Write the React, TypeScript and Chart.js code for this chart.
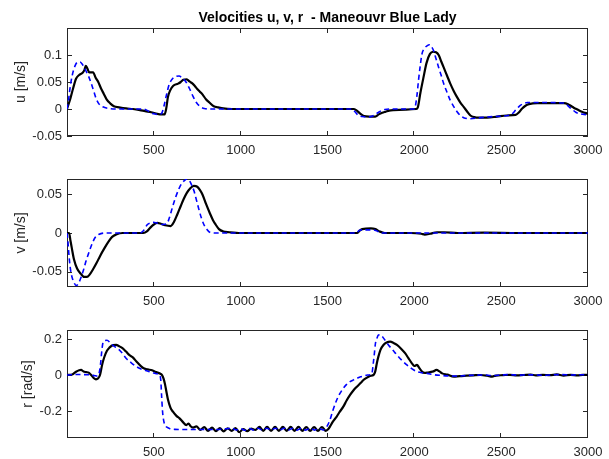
import React, { useEffect, useRef } from "react";
import { Chart, registerables } from "chart.js";

Chart.register(...registerables);

const FONT = "'Liberation Sans', Arial, Helvetica, sans-serif";
const AXIS_COLOR = "#262626";

// ---------------- data ----------------
const titleText = "Velocities u, v, r  - Maneouvr Blue Lady";
const xTicks = [500, 1000, 1500, 2000, 2500, 3000];
const uTicks = [-0.05, 0, 0.05, 0.1];
const vTicks = [-0.05, 0, 0.05];
const rTicks = [-0.2, 0, 0.2];

const uMeasured: [number, number][] = [
  [0, 0], [20, 0.02], [35, 0.038], [52, 0.056], [70, 0.063], [90, 0.067], [100, 0.072], [108, 0.08],
  [116, 0.076], [128, 0.068], [150, 0.068], [165, 0.058], [180, 0.05], [196, 0.038], [212, 0.028],
  [228, 0.018], [250, 0.01], [270, 0.005], [300, 0.003], [340, 0.001], [380, 0], [420, -0.002],
  [450, -0.004], [485, -0.006], [520, -0.009], [545, -0.01], [562, -0.01], [572, 0.002], [581, 0.022],
  [595, 0.035], [612, 0.043], [640, 0.047], [655, 0.05], [670, 0.054], [690, 0.055], [705, 0.051],
  [720, 0.048], [735, 0.043], [750, 0.037], [765, 0.032], [780, 0.027], [800, 0.018], [820, 0.012],
  [845, 0.005], [870, 0.003], [900, 0.001], [950, 0], [1300, 0], [1650, 0], [1665, -0.002],
  [1690, -0.009], [1710, -0.013], [1740, -0.014], [1775, -0.014], [1795, -0.01], [1815, -0.007],
  [1835, -0.005], [1855, -0.003], [1880, -0.002], [1950, -0.001], [2010, 0], [2020, 0.003],
  [2035, 0.03], [2053, 0.059], [2070, 0.085], [2090, 0.102], [2108, 0.106], [2125, 0.105],
  [2140, 0.1], [2155, 0.088], [2169, 0.077], [2188, 0.062], [2207, 0.047], [2226, 0.034],
  [2246, 0.022], [2265, 0.012], [2284, 0.004], [2305, -0.005], [2323, -0.012], [2345, -0.015],
  [2370, -0.016], [2419, -0.016], [2477, -0.014], [2530, -0.012], [2583, -0.011], [2600, -0.007],
  [2621, 0.001], [2640, 0.006], [2660, 0.009], [2708, 0.011], [2780, 0.011], [2862, 0.011],
  [2885, 0.009], [2900, 0.006], [2920, 0.002], [2939, -0.001], [2965, -0.005], [3000, -0.009],
];

const uSimulated: [number, number][] = [
  [0, 0], [8, 0.015], [18, 0.04], [30, 0.062], [45, 0.079], [62, 0.087], [75, 0.087], [90, 0.082],
  [110, 0.07], [125, 0.06], [140, 0.047], [155, 0.032], [167, 0.02], [185, 0.009], [206, 0.004],
  [240, 0.001], [280, 0], [440, 0], [470, -0.004], [500, -0.009], [530, -0.01], [545, -0.008],
  [558, 0.005], [572, 0.025], [588, 0.045], [605, 0.055], [625, 0.06], [645, 0.061], [665, 0.057],
  [685, 0.05], [705, 0.038], [725, 0.024], [745, 0.012], [765, 0.005], [790, 0.001], [830, 0],
  [1640, 0], [1655, -0.004], [1675, -0.011], [1700, -0.014], [1730, -0.015], [1760, -0.013],
  [1790, -0.007], [1810, -0.003], [1830, -0.001], [1860, 0], [1995, 0], [2005, 0.004], [2015, 0.025],
  [2024, 0.053], [2034, 0.08], [2044, 0.102], [2058, 0.112], [2073, 0.117], [2088, 0.119],
  [2100, 0.115], [2111, 0.108], [2125, 0.093], [2140, 0.077], [2155, 0.062], [2169, 0.047],
  [2188, 0.031], [2207, 0.016], [2226, 0.005], [2246, -0.005], [2265, -0.012], [2284, -0.016],
  [2323, -0.018], [2381, -0.016], [2458, -0.014], [2554, -0.011], [2570, -0.007], [2583, -0.002],
  [2598, 0.003], [2612, 0.007], [2630, 0.01], [2650, 0.012], [2766, 0.012], [2862, 0.011],
  [2878, 0.008], [2891, 0.004], [2910, -0.001], [2929, -0.006], [2955, -0.009], [2977, -0.01],
  [3000, -0.011],
];

const vMeasured: [number, number][] = [
  [0, 0], [12, 0], [20, -0.01], [28, -0.02], [40, -0.034], [58, -0.046], [80, -0.053], [100, -0.057],
  [115, -0.057], [130, -0.054], [150, -0.047], [170, -0.039], [190, -0.03], [215, -0.02],
  [240, -0.011], [260, -0.005], [283, -0.002], [320, 0], [440, 0], [460, 0.002], [480, 0.007],
  [500, 0.011], [520, 0.013], [540, 0.012], [565, 0.01], [597, 0.009], [615, 0.014], [635, 0.024],
  [655, 0.035], [672, 0.044], [690, 0.052], [710, 0.058], [730, 0.061], [750, 0.06], [765, 0.056],
  [780, 0.05], [800, 0.038], [822, 0.026], [840, 0.017], [856, 0.011], [875, 0.005], [900, 0.002],
  [935, 0.001], [1000, 0], [1670, 0], [1685, 0.003], [1700, 0.005], [1750, 0.006], [1776, 0.005],
  [1800, 0.002], [1830, 0], [1900, 0], [1980, 0], [2040, -0.001], [2060, -0.002], [2090, -0.001],
  [2130, 0.001], [2170, 0.001], [2250, 0], [2400, 0.0005], [2600, 0], [3000, 0],
];

const vSimulated: [number, number][] = [
  [0, 0], [5, -0.01], [10, -0.025], [16, -0.04], [22, -0.05], [30, -0.058], [40, -0.064],
  [52, -0.068], [65, -0.066], [80, -0.058], [95, -0.048], [110, -0.036], [125, -0.026],
  [148, -0.012], [165, -0.005], [182, -0.002], [216, 0], [420, 0], [440, 0.003], [463, 0.011],
  [480, 0.013], [496, 0.014], [530, 0.012], [552, 0.011], [575, 0.012], [590, 0.02], [608, 0.034],
  [625, 0.046], [642, 0.056], [660, 0.064], [676, 0.068], [692, 0.07], [705, 0.068], [718, 0.062],
  [732, 0.054], [745, 0.043], [759, 0.031], [773, 0.02], [788, 0.011], [805, 0.005], [822, 0.001],
  [860, 0], [1670, 0], [1680, 0.003], [1700, 0.004], [1765, 0.004], [1790, 0.002], [1810, 0],
  [3000, 0],
];

const rMeasured: [number, number][] = [
  [0, 0], [30, 0.003], [52, 0.018], [70, 0.026], [81, 0.028], [95, 0.02], [110, 0.016], [125, 0.013],
  [139, 0], [155, -0.018], [167, -0.024], [178, -0.02], [190, 0], [203, 0.06], [215, 0.1],
  [230, 0.135], [244, 0.152], [265, 0.166], [283, 0.167], [300, 0.16], [321, 0.148], [340, 0.13],
  [360, 0.11], [379, 0.098], [400, 0.075], [427, 0.048], [445, 0.036], [465, 0.031], [490, 0.026],
  [514, 0.016], [535, 0.008], [548, -0.002], [556, -0.02], [564, -0.05], [572, -0.09], [581, -0.135],
  [595, -0.18], [610, -0.204], [630, -0.227], [648, -0.241], [668, -0.262], [687, -0.278],
  [700, -0.27], [712, -0.285], [726, -0.292], [745, -0.285], [768, -0.305], [790, -0.29],
  [812, -0.31], [835, -0.292], [858, -0.312], [880, -0.295], [902, -0.313], [925, -0.296],
  [948, -0.31], [970, -0.295], [992, -0.318], [1015, -0.3], [1038, -0.312], [1060, -0.298],
  [1085, -0.305], [1108, -0.288], [1130, -0.31], [1152, -0.288], [1175, -0.31], [1198, -0.288],
  [1220, -0.31], [1243, -0.288], [1265, -0.31], [1288, -0.288], [1310, -0.31], [1333, -0.288],
  [1355, -0.31], [1378, -0.29], [1400, -0.31], [1423, -0.29], [1445, -0.31], [1468, -0.29],
  [1490, -0.31], [1505, -0.3], [1514, -0.287], [1530, -0.26], [1553, -0.231], [1570, -0.205],
  [1591, -0.176], [1610, -0.142], [1630, -0.111], [1650, -0.085], [1669, -0.065], [1690, -0.045],
  [1707, -0.028], [1725, -0.016], [1745, -0.005], [1765, 0], [1775, 0.02], [1785, 0.07],
  [1793, 0.102], [1805, 0.14], [1822, 0.167], [1840, 0.18], [1861, 0.185], [1880, 0.178],
  [1900, 0.167], [1925, 0.145], [1948, 0.12], [1965, 0.095], [1986, 0.065], [2000, 0.05],
  [2015, 0.056], [2028, 0.04], [2044, 0.019], [2060, 0.012], [2073, 0.013], [2090, 0.016],
  [2110, 0.02], [2127, 0.028], [2145, 0.02], [2160, 0.009], [2190, 0.002], [2227, -0.009],
  [2260, -0.006], [2300, -0.004], [2340, -0.002], [2380, 0], [2420, -0.004], [2448, -0.009],
  [2470, -0.003], [2510, -0.001], [2550, 0.001], [2590, -0.002], [2630, 0], [2670, 0.002],
  [2700, -0.002], [2740, 0.001], [2780, -0.001], [2820, 0.003], [2860, -0.003], [2900, 0.001],
  [2940, -0.002], [2970, 0.001], [3000, 0],
];

const rSimulated: [number, number][] = [
  [0, 0], [60, 0.003], [100, 0.002], [140, 0], [160, -0.004], [175, -0.006], [185, 0.01],
  [193, 0.06], [200, 0.13], [206, 0.175], [215, 0.19], [230, 0.193], [250, 0.178], [270, 0.16],
  [292, 0.148], [315, 0.125], [340, 0.093], [370, 0.068], [395, 0.05], [417, 0.037], [445, 0.028],
  [470, 0.02], [494, 0.013], [515, 0.007], [533, 0.002], [540, -0.03], [545, -0.12], [550, -0.2],
  [557, -0.255], [565, -0.28], [575, -0.29], [590, -0.297], [620, -0.302], [680, -0.303],
  [750, -0.303], [800, -0.302], [850, -0.303], [900, -0.3], [950, -0.296], [975, -0.305],
  [1000, -0.298], [1025, -0.307], [1050, -0.297], [1075, -0.306], [1100, -0.296], [1125, -0.306],
  [1150, -0.296], [1175, -0.306], [1200, -0.296], [1225, -0.306], [1250, -0.296], [1275, -0.306],
  [1300, -0.296], [1325, -0.306], [1350, -0.296], [1375, -0.306], [1400, -0.296], [1425, -0.306],
  [1450, -0.296], [1475, -0.305], [1496, -0.287], [1514, -0.25], [1530, -0.2], [1553, -0.139],
  [1570, -0.105], [1591, -0.074], [1610, -0.052], [1630, -0.037], [1650, -0.027], [1669, -0.019],
  [1690, -0.01], [1707, -0.006], [1730, 0], [1755, 0.006], [1763, 0.06], [1770, 0.12],
  [1776, 0.175], [1785, 0.205], [1793, 0.222], [1805, 0.223], [1813, 0.217], [1830, 0.195],
  [1851, 0.167], [1875, 0.14], [1900, 0.111], [1930, 0.08], [1957, 0.056], [1985, 0.035],
  [2015, 0.019], [2045, 0.012], [2073, 0.009], [2110, 0.002], [2150, -0.002], [2200, -0.005],
  [2246, -0.006], [2300, -0.003], [2350, -0.001], [2400, 0], [2450, -0.003], [2500, 0],
  [2550, 0.002], [2600, -0.001], [2650, 0.001], [2700, 0], [2750, -0.002], [2800, 0.001],
  [2850, 0.002], [2900, 0], [2950, 0.001], [3000, 0.002],
];

// ---------------- chart helpers ----------------
const boxPlugin = {
  id: "matlabBox",
  beforeDatasetsDraw(chart: any) {
    const { ctx, chartArea: a, scales } = chart;
    ctx.save();
    ctx.strokeStyle = AXIS_COLOR;
    ctx.lineWidth = 1;
    ctx.strokeRect(a.left + 0.5, a.top + 0.5, a.right - a.left - 1, a.bottom - a.top - 1);
    const L = 5;
    ctx.beginPath();
    for (const t of scales.x.ticks) {
      const px = Math.round(scales.x.getPixelForValue(t.value)) - 0.5;
      ctx.moveTo(px, a.bottom);
      ctx.lineTo(px, a.bottom - L);
      ctx.moveTo(px, a.top);
      ctx.lineTo(px, a.top + L);
    }
    for (const t of scales.y.ticks) {
      const py = Math.round(scales.y.getPixelForValue(t.value)) + 0.5;
      ctx.moveTo(a.left, py);
      ctx.lineTo(a.left + L, py);
      ctx.moveTo(a.right, py);
      ctx.lineTo(a.right - L, py);
    }
    ctx.stroke();
    ctx.restore();
  },
};

const toPts = (s: [number, number][]) => s.map(([x, y]) => ({ x, y }));

interface PanelSpec {
  measured: [number, number][];
  simulated: [number, number][];
  yMin: number;
  yMax: number;
  yTicks: number[];
  yLabel: string;
  yLabelPad: number;
  padTop: number;
  xHeight: number;
  title?: string;
}

function makeConfig(p: PanelSpec): any {
  return {
    type: "line",
    data: {
      datasets: [
        {
          label: "simulated",
          data: toPts(p.simulated),
          borderColor: "#0000ff",
          borderWidth: 1.6,
          borderDash: [5, 3.5],
          pointRadius: 0,
          fill: false,
          cubicInterpolationMode: "monotone",
        },
        {
          label: "measured",
          data: toPts(p.measured),
          borderColor: "#000000",
          borderWidth: 2.2,
          pointRadius: 0,
          fill: false,
          cubicInterpolationMode: "monotone",
        },
      ],
    },
    options: {
      responsive: false,
      animation: false,
      devicePixelRatio: 1,
      events: [],
      layout: { padding: { left: 0, right: 52, top: p.padTop, bottom: 0 } },
      plugins: {
        legend: { display: false },
        tooltip: { enabled: false },
        title: p.title
          ? {
              display: true,
              text: p.title,
              fullSize: false,
              color: "#000000",
              font: { family: FONT, size: 14, weight: "bold" },
              padding: { top: 10, bottom: 1.2 },
            }
          : { display: false },
      },
      scales: {
        x: {
          type: "linear",
          min: 0,
          max: 3000,
          afterBuildTicks: (s: any) => {
            s.ticks = xTicks.map((v) => ({ value: v }));
          },
          afterFit: (s: any) => {
            s.height = p.xHeight;
          },
          grid: { display: false, drawTicks: false },
          border: { display: false },
          ticks: {
            autoSkip: false,
            maxRotation: 0,
            padding: 7,
            color: AXIS_COLOR,
            font: { family: FONT, size: 13 },
            callback: (v: any) => String(v),
          },
        },
        y: {
          type: "linear",
          min: p.yMin,
          max: p.yMax,
          afterBuildTicks: (s: any) => {
            s.ticks = p.yTicks.map((v) => ({ value: v }));
          },
          afterFit: (s: any) => {
            s.width = 67;
          },
          grid: { display: false, drawTicks: false },
          border: { display: false },
          ticks: {
            padding: 5,
            color: AXIS_COLOR,
            font: { family: FONT, size: 13 },
            callback: (v: any) => String(v),
          },
          title: {
            display: true,
            text: p.yLabel,
            color: AXIS_COLOR,
            font: { family: FONT, size: 14 },
            padding: { top: p.yLabelPad, bottom: 0 },
          },
        },
      },
    },
    plugins: [boxPlugin],
  };
}

const panels: { top: number; height: number; spec: PanelSpec }[] = [
  {
    top: 0,
    height: 160,
    spec: {
      measured: uMeasured,
      simulated: uSimulated,
      yMin: -0.05,
      yMax: 0.15,
      yTicks: uTicks,
      yLabel: "u [m/s]",
      yLabelPad: 12.7,
      padTop: 0,
      xHeight: 24,
      title: titleText,
    },
  },
  {
    top: 160,
    height: 150,
    spec: {
      measured: vMeasured,
      simulated: vSimulated,
      yMin: -0.07,
      yMax: 0.07,
      yTicks: vTicks,
      yLabel: "v [m/s]",
      yLabelPad: 12.7,
      padTop: 19,
      xHeight: 23,
    },
  },
  {
    top: 310,
    height: 149,
    spec: {
      measured: rMeasured,
      simulated: rSimulated,
      yMin: -0.35,
      yMax: 0.25,
      yTicks: rTicks,
      yLabel: "r [rad/s]",
      yLabelPad: 19.7,
      padTop: 20,
      xHeight: 21,
    },
  },
];

const CANVAS_W = 640;

export default function App() {
  const refs = [useRef<HTMLCanvasElement>(null), useRef<HTMLCanvasElement>(null), useRef<HTMLCanvasElement>(null)];

  useEffect(() => {
    const charts: Chart[] = [];
    panels.forEach((p, i) => {
      const c = refs[i].current;
      if (c) charts.push(new Chart(c, makeConfig(p.spec)));
    });
    return () => charts.forEach((c) => c.destroy());
  }, []);

  return (
    <div
      style={{
        position: "absolute",
        left: 0,
        top: 0,
        width: 609,
        height: 459,
        overflow: "hidden",
        background: "#ffffff",
      }}
    >
      {panels.map((p, i) => (
        <canvas
          key={i}
          ref={refs[i]}
          width={CANVAS_W}
          height={p.height}
          style={{ position: "absolute", left: 0, top: p.top, width: CANVAS_W, height: p.height, display: "block" }}
        />
      ))}
    </div>
  );
}
